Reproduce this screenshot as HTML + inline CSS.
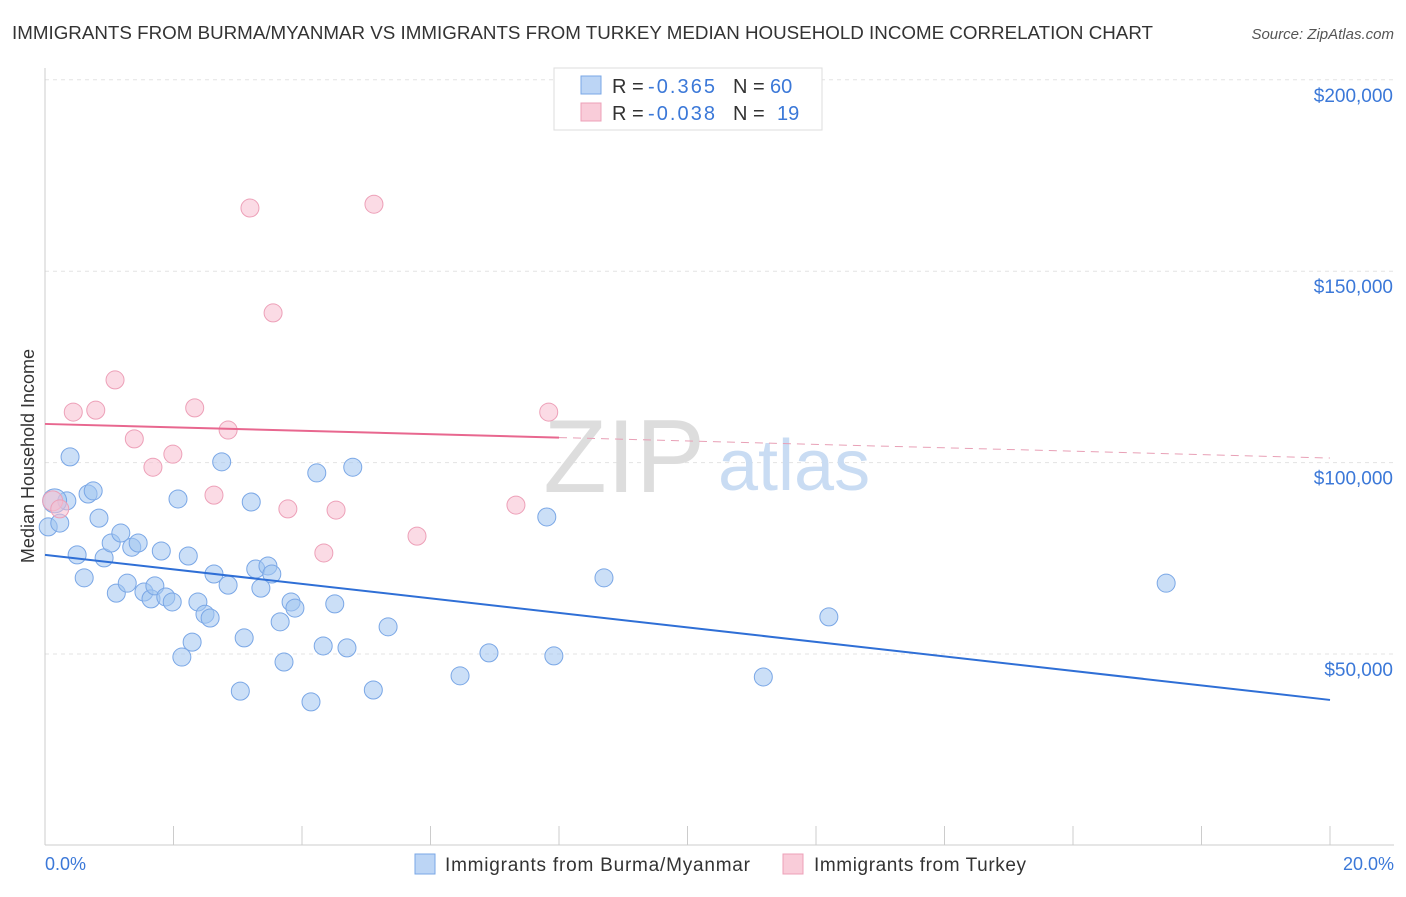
<!DOCTYPE html>
<html><head><meta charset="utf-8"><style>
body{margin:0;background:#fff;font-family:"Liberation Sans",sans-serif;}
svg text{font-family:"Liberation Sans",sans-serif;}
</style></head><body>
<svg id="chart" width="1406" height="892">
<text x="12" y="39" font-size="18" fill="#333" textLength="1141" lengthAdjust="spacingAndGlyphs">IMMIGRANTS FROM BURMA/MYANMAR VS IMMIGRANTS FROM TURKEY MEDIAN HOUSEHOLD INCOME CORRELATION CHART</text>
<text x="1394" y="39" font-size="15" fill="#555" font-style="italic" text-anchor="end">Source: ZipAtlas.com</text>
<g id="grid"></g>
<text x="705" y="492" font-size="104" fill="#ddd" text-anchor="end" font-family="Liberation Serif">ZIP</text>
<text x="718" y="490" font-size="72" fill="#c9dcf3">atlas</text>
<g id="marks"></g>
<text transform="translate(34,456) rotate(-90)" font-size="18" fill="#333" text-anchor="middle">Median Household Income</text>
<text x="45" y="870" font-size="18" fill="#3b78d8">0.0%</text>
<text x="1394" y="870" font-size="18" fill="#3b78d8" text-anchor="end">20.0%</text>
<g>
<rect x="554" y="68" width="268" height="62" fill="#fff" stroke="#ddd"/>
<rect x="581" y="76" width="20" height="18" fill="#bcd5f5" stroke="#7aa7e6"/>
<rect x="581" y="103" width="20" height="18" fill="#f9ccd9" stroke="#eda0b8"/>
<text x="612" y="93" font-size="20" fill="#333">R = <tspan fill="#3b78d8" x="648" textLength="67">-0.365</tspan><tspan x="733">N = </tspan><tspan fill="#3b78d8" x="770">60</tspan></text>
<text x="612" y="120" font-size="20" fill="#333">R = <tspan fill="#3b78d8" x="648" textLength="67">-0.038</tspan><tspan x="733">N = </tspan><tspan fill="#3b78d8" x="777">19</tspan></text>
</g>
<g>
<rect x="415" y="854" width="20" height="20" fill="#bcd5f5" stroke="#7aa7e6"/>
<text x="445" y="871" font-size="19" fill="#333" textLength="305">Immigrants from Burma/Myanmar</text>
<rect x="783" y="854" width="20" height="20" fill="#f9ccd9" stroke="#eda0b8"/>
<text x="814" y="871" font-size="19" fill="#333" textLength="212">Immigrants from Turkey</text>
</g>
</svg>
<script>
const yTicks=[50000,100000,150000,200000];
const yTickLabels=["$50,000","$100,000","$150,000","$200,000"];
const xTicks=[0,2,4,6,8,10,12,14,16,18,20];
const burmaX=[0.05,0.23,0.34,0.39,0.50,0.61,0.67,0.75,0.84,0.92,1.03,1.11,1.18,1.28,1.35,1.45,1.54,1.65,1.71,1.81,1.88,1.98,2.07,2.13,2.23,2.29,2.38,2.49,2.57,2.63,2.75,2.85,3.04,3.10,3.21,3.28,3.36,3.47,3.53,3.66,3.72,3.83,3.89,4.14,4.23,4.33,4.51,4.70,4.79,5.11,5.34,6.46,6.91,7.81,7.92,8.70,11.18,12.20,17.45,0.15];
const burmaY=[83200,84200,90000,101500,75900,69900,91800,92600,85500,75100,79000,65900,81600,68500,77900,79000,66200,64400,67800,76900,64900,63600,90500,49200,75600,53100,63600,60400,59400,70900,100200,68000,40300,54200,89700,72200,67200,73000,70900,58400,47900,63600,62000,37500,97300,52100,63100,51600,98800,40600,57100,44300,50300,85800,49500,69900,44000,59700,68500,90000];
const turkeyX=[0.12,0.23,0.44,0.79,1.09,1.39,1.68,1.99,2.33,2.63,2.85,3.19,3.55,3.78,4.53,4.34,5.12,5.79,7.33,7.84];
const turkeyY=[90000,87900,113200,113700,121600,106200,98800,102200,114300,91500,108500,166500,139100,87900,87600,76400,167500,80800,88900,113200];
const burmaTrend=[75900,38000];
const turkeyTrend=[110100,101200];
const NS='http://www.w3.org/2000/svg';
const xs=v=>45+v/20*1285;
const ys=v=>654-(v-50000)*191.4/50000;
function mk(t,a,p){const e=document.createElementNS(NS,t);for(const k in a)e.setAttribute(k,a[k]);p.appendChild(e);return e;}
const g=document.getElementById('grid'),m=document.getElementById('marks');
yTicks.forEach((v,i)=>{
 const l=mk('line',{x1:45,x2:1394,y1:ys(v),y2:ys(v),stroke:'#e3e3e3','stroke-dasharray':'4,4'},g);
 
 
 const t=mk('text',{x:1393,y:ys(v)+22,'font-size':19,fill:'#3b78d8','text-anchor':'end'},g);
 t.textContent=yTickLabels[i];
 
 
});
const ax=mk('line',{x1:45,x2:1394,y1:845,y2:845,stroke:'#ccc'},g);


const ay=mk('line',{x1:45,x2:45,y1:68,y2:845,stroke:'#ccc'},g);


xTicks.forEach(v=>{
 const l=mk('line',{x1:xs(v),x2:xs(v),y1:826,y2:845,stroke:'#ccc'},g);
 
 
});
burmaX.forEach((x,i)=>{
 const r=i==burmaX.length-1?12:9;
 const c=mk('circle',{cx:xs(x),cy:ys(burmaY[i]),r:r,fill:'rgba(160,196,240,0.55)',stroke:'#7aa7e6','stroke-width':1},m);
 
 
});
turkeyX.forEach((x,i)=>{
 const c=mk('circle',{cx:xs(x),cy:ys(turkeyY[i]),r:i==0?10:9,fill:'rgba(247,190,208,0.55)',stroke:'#eda0b8','stroke-width':1},m);
 
 
});
const bl=mk('line',{x1:xs(0),y1:ys(burmaTrend[0]),x2:xs(20),y2:ys(burmaTrend[1]),stroke:'#2f6fd6','stroke-width':2},m);


const tv=x=>turkeyTrend[0]+(turkeyTrend[1]-turkeyTrend[0])*x/20;
const tl=mk('line',{x1:xs(0),y1:ys(tv(0)),x2:xs(8),y2:ys(tv(8)),stroke:'#e8678f','stroke-width':2},m);


const td=mk('line',{x1:xs(8),y1:ys(tv(8)),x2:xs(20),y2:ys(tv(20)),stroke:'#e8a0b6','stroke-width':1,'stroke-dasharray':'8,6'},m);


</script>
</body></html>
